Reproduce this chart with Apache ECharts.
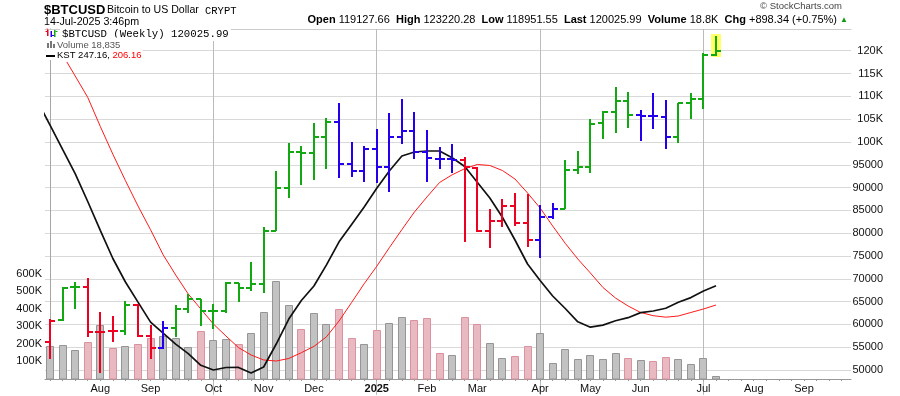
<!DOCTYPE html>
<html><head><meta charset="utf-8">
<script src="https://cdn.jsdelivr.net/npm/echarts@6/dist/echarts.min.js"></script>
<style>html,body{margin:0;padding:0;background:#fff}#c{width:900px;height:396px}</style>
</head><body><div id="c"></div>
<script>
// ---- data (weekly bars, week start dates) ----
const weekDates = ['2024-07-08','2024-07-15','2024-07-22','2024-07-29','2024-08-05','2024-08-12','2024-08-19','2024-08-26',
 '2024-09-02','2024-09-09','2024-09-16','2024-09-23','2024-09-30','2024-10-07','2024-10-14','2024-10-21','2024-10-28',
 '2024-11-04','2024-11-11','2024-11-18','2024-11-25','2024-12-02','2024-12-09','2024-12-16','2024-12-23','2024-12-30',
 '2025-01-06','2025-01-13','2025-01-20','2025-01-27','2025-02-03','2025-02-10','2025-02-17','2025-02-24','2025-03-03',
 '2025-03-10','2025-03-17','2025-03-24','2025-03-31','2025-04-07','2025-04-14','2025-04-21','2025-04-28','2025-05-05',
 '2025-05-12','2025-05-19','2025-05-26','2025-06-02','2025-06-09','2025-06-16','2025-06-23','2025-06-30','2025-07-07','2025-07-14'];
const opens = [56139,60963,68264,68132,58266,58617,58617,64251,57350,54758,59143,63374,65501,63001,62936,69009,68045,
 68790,80542,89838,97863,97512,101151,104441,95100,93697,98389,94573,101151,102467,97863,96328,96328,96043,94224,
 80542,82668,86023,82296,78503,83611,85299,93850,94574,104155,106567,109044,105909,105690,105537,101151,108606,109483,119127.66];
const highs = [61248,68132,69360,70105,62651,61840,65128,64471,59866,60678,64251,66663,65567,64471,69360,69141,73613,
 81419,93631,99705,99112,104221,105186,108475,99924,99112,102774,106282,109418,106502,102620,98827,99551,96635,94443,
 85299,87492,88742,88588,86111,86549,96043,98016,104966,106786,111983,110886,106940,110667,109198,108475,110667,119568,123220.28];
const lows = [52346,60743,63308,57170,49276,56073,57674,57170,52478,54670,57301,62563,59713,58923,62563,64975,67387,
 66817,80476,87646,90561,91658,94069,92162,92381,91285,91066,89093,99485,96197,91154,94004,93258,78130,80323,
 76683,81419,81572,77034,74490,83041,85299,92908,93258,100713,102028,103124,100274,102774,98389,99705,105098,107290,118951.55];
const closes = [60743,68045,68264,58266,58331,58617,64251,57350,54889,59143,63374,65501,63001,62936,69009,68045,68790,
 80542,89838,97863,97512,101151,104441,95100,93697,98389,94573,101151,102467,97863,96547,96328,96043,94443,80542,
 82668,86023,82296,78503,83611,85234,93850,94443,103936,106502,109044,105909,105690,105690,101151,108475,109352,119130,120025.99];
// bar colour code: g = green, r = red, b = blue
const barColorCode = ['r','g','g','r','r','r','g','r','r','b','g','g','g','g','g','g','g','g','g','g','g','g','g',
 'b','b','b','b','b','b','b','b','b','b','r','r','r','r','r','r','b','b','g','g','g','g','g','g','b','b','b','g','g','g','g'];
const volumes = [188000,193000,165000,210000,307000,178000,187000,199000,235000,244000,235000,182000,273000,222000,
 227000,199000,263000,381000,558000,423000,284000,376000,313000,398000,233000,199000,279000,319000,353000,336000,
 347000,148000,136000,353000,315000,206000,119000,130000,187000,263000,92000,170000,113000,136000,113000,149000,
 119000,108000,102000,125000,113000,85000,119000,18835];
const volumeDownWeeks = [3,5,7,8,12,15,20,23,24,26,29,30,31,33,34,37,38,46,48,49];
// KST and its signal line; first value belongs to the week before the window (2024-07-01)
const kstLine = [639.5,588.1,536.5,485.3,426.0,364.8,304.9,255.0,212.3,169.9,146.5,123.1,102.9,78.1,68.1,73.4,73.6,
 61.7,74.5,123.3,176.4,215.7,246.5,291.4,340.4,377.2,414.3,454.1,490.8,522.7,531.2,533.3,533.3,519.0,500.4,466.8,
 433.4,392.5,344.2,293.3,258.2,225.3,198.7,170.5,159.0,163.5,172.8,179.2,190.0,193.4,199.2,211.9,221.9,235.9,247.16];
const kstSignal = [828.5,783.1,737.8,692.6,647.3,585.5,526.5,470.4,416.5,366.1,313.0,269.9,229.5,197.7,165.8,140.3,
 115.7,100.0,89.4,87.2,92.6,104.9,118.2,138.6,172.2,211.5,251.4,288.4,327.9,366.3,403.7,435.8,466.4,482.7,495.7,
 504.6,502.5,491.9,473.8,444.1,412.2,374.0,337.2,303.9,274.2,243.4,221.0,204.1,190.3,183.5,180.3,182.8,190.3,197.7,206.16];
// x-axis tick labels (week index -> text)
const monthLabelIdx = [4,8,13,17,21,26,30,34,39,43,47,52,56,60];
const monthLabelText = ['Aug','Sep','Oct','Nov','Dec','2025','Feb','Mar','Apr','May','Jun','Jul','Aug','Sep'];
const quarterIdx = [13,26,39,52];

// ---- build ----
const FONT = '"Liberation Sans", Arial, sans-serif';
const X_MIN = -0.4, X_MAX = 63.74;
const COLORS = {g:'#12a812', r:'#ee0020', b:'#2200ee'};
const ohlcData = weekDates.map((d,i)=>[i, opens[i], highs[i], lows[i], closes[i]]);
const volData = volumes.map((v,i)=>[i, v]);
const kstData = kstLine.map((v,i)=>[i-1, v]);
const sigData = kstSignal.map((v,i)=>[i-1, v]);
const weekTicks = []; for (let i = 0; i < 64; i++) weekTicks.push(i);
const labelMap = {}; monthLabelIdx.forEach((v,k)=>labelMap[v]=monthLabelText[k]);

const chart = echarts.init(document.getElementById('c'), null, {renderer:'canvas'});
const xBase = {type:'value', min:X_MIN, max:X_MAX, splitLine:{show:false}};
const option = {
  animation:false,
  textStyle:{fontFamily:FONT},
  grid:[{left:45,right:49,top:29,bottom:17},{left:45,right:49,top:50.73,bottom:26}],
  xAxis:[
    Object.assign({}, xBase, {gridIndex:0, position:'bottom',
      axisLine:{show:true, onZero:false, lineStyle:{color:'#999',width:1}},
      axisTick:{show:true, customValues:quarterIdx, length:16, lineStyle:{color:'#bbbbbb'}},
      axisLabel:{show:true, customValues:monthLabelIdx, margin:4, fontSize:11, color:'#111', fontFamily:FONT,
        formatter:function(v){const t=labelMap[Math.round(v)]||''; return t==='2025'?'{y|2025}':t;},
        rich:{y:{fontWeight:'bold',fontSize:11,color:'#111',fontFamily:FONT}}}}),
    Object.assign({}, xBase, {gridIndex:0, position:'bottom',
      axisLine:{show:false}, axisLabel:{show:false},
      axisTick:{show:true, customValues:weekTicks, length:2, lineStyle:{color:'#999'}}}),
    Object.assign({}, xBase, {gridIndex:0, position:'top',
      axisLine:{show:true, onZero:false, lineStyle:{color:'#cccccc'}}, axisTick:{show:false}, axisLabel:{show:false}}),
    Object.assign({}, xBase, {gridIndex:1, show:false})
  ],
  yAxis:[
    {gridIndex:0, type:'value', position:'left', min:0, max:1995439, interval:100000,
      axisLine:{show:true, lineStyle:{color:'#999'}}, axisTick:{show:false}, splitLine:{show:false},
      axisLabel:{margin:3, fontSize:11, color:'#111', fontFamily:FONT,
        formatter:function(v){return (v>=100000&&v<=600000)?(Math.round(v/1000))+'K':'';}}},
    {gridIndex:0, type:'value', position:'right', min:49, max:792.4,
      axisLine:{show:true, lineStyle:{color:'#aaaaaa', type:'dotted'}}, axisTick:{show:false},
      axisLabel:{show:false}, splitLine:{show:false}},
    {gridIndex:1, type:'value', position:'right', min:50000, max:120000, interval:5000,
      axisLine:{show:false}, axisTick:{show:false},
      splitLine:{show:true, lineStyle:{color:'#d9d9d9', width:1}},
      axisLabel:{align:'right', margin:32, fontSize:11, color:'#111', fontFamily:FONT,
        formatter:function(v){return v>=100000?(v/1000)+'K':String(v);}}}
  ],
  series:[
    {type:'custom', name:'Volume', xAxisIndex:0, yAxisIndex:0, z:2, clip:false, data:volData,
      encode:{x:0,y:1},
      renderItem:function(params, api){
        const i = api.value(0);
        const top = api.coord([i, api.value(1)]);
        const base = api.coord([i, 0]);
        const x = Math.round(top[0]);
        const down = volumeDownWeeks.indexOf(i) >= 0;
        return {type:'rect', shape:{x:x-3.5, y:Math.round(top[1])+0.5, width:7, height:Math.round(base[1])-Math.round(top[1])-0.5},
          style:{fill: down?'#e8b9c0':'#c2c2c2', stroke: down?'#d9929e':'#959595', lineWidth:1}};
      }},
    {type:'line', name:'Signal', xAxisIndex:0, yAxisIndex:1, z:3, data:sigData, showSymbol:false,
      lineStyle:{color:'#ff1a1a', width:1}, silent:true,
      markLine:{silent:true, symbol:'none', z:1, label:{show:false}, animation:false,
        lineStyle:{color:'#bbbbbb', type:'solid', width:1},
        data: quarterIdx.map(q=>({xAxis:q}))}},
    {type:'line', name:'KST', xAxisIndex:0, yAxisIndex:1, z:3, data:kstData, showSymbol:false,
      lineStyle:{color:'#111', width:1.7}, silent:true},
    {type:'custom', name:'Price', xAxisIndex:3, yAxisIndex:2, z:4, clip:false, data:ohlcData,
      encode:{x:0, y:[1,2,3,4]},
      renderItem:function(params, api){
        const i = api.value(0);
        const o = api.coord([i, api.value(1)]);
        const h = api.coord([i, api.value(2)]);
        const l = api.coord([i, api.value(3)]);
        const c = api.coord([i, api.value(4)]);
        const x = Math.round(o[0]);
        const col = COLORS[barColorCode[i]];
        const ch = [];
        if (params.dataIndex === ohlcData.length - 1) {
          ch.push({type:'rect', shape:{x:x-5, y:Math.round(h[1])-2, width:10, height:Math.round(l[1])-Math.round(h[1])+3}, style:{fill:'#ffff66'}});
        }
        ch.push({type:'rect', shape:{x:x-1, y:Math.round(h[1]), width:2, height:Math.max(1,Math.round(l[1])-Math.round(h[1]))}, style:{fill:col}});
        ch.push({type:'rect', shape:{x:x-5, y:Math.round(o[1])-1, width:5, height:2}, style:{fill:col}});
        ch.push({type:'rect', shape:{x:x, y:Math.round(c[1])-1, width:5, height:2}, style:{fill:col}});
        return {type:'group', children:ch};
      }}
  ],
  graphic:[
    {type:'text', x:44, y:10, z:100, style:{text:'$BTCUSD', font:'bold 13px '+FONT, fill:'#000', verticalAlign:'middle'}},
    {type:'text', x:107, y:10.5, z:100, style:{text:'Bitcoin to US Dollar', font:'10.6px '+FONT, fill:'#000', verticalAlign:'middle'}},
    {type:'text', x:205, y:11, z:100, style:{text:'CRYPT', font:'10.5px "Liberation Mono", monospace', fill:'#000', verticalAlign:'middle'}},
    {type:'text', x:44, y:22.5, z:100, style:{text:'14-Jul-2025 3:46pm', font:'10.7px '+FONT, fill:'#000', verticalAlign:'middle'}},
    {type:'text', x:842, y:6.5, z:100, style:{text:'\u00a9 StockCharts.com', font:'9.5px '+FONT, fill:'#444', align:'right', verticalAlign:'middle'}},
    {type:'text', x:848, y:20, z:100, style:{
      text:'{b|Open} 119127.66  {b|High} 123220.28  {b|Low} 118951.55  {b|Last} 120025.99  {b|Volume} 18.8K  {b|Chg} +898.34 (+0.75%) {u|\u25b2}',
      font:'11px '+FONT, fill:'#000', align:'right', verticalAlign:'middle',
      rich:{b:{fontWeight:'bold', fontSize:11, fontFamily:FONT, fill:'#000'}, u:{fontSize:8, fill:'#119911', fontFamily:FONT}}}},
    // legend background behind icons
    {type:'rect', z:99, shape:{x:45.5, y:30, width:14, height:30}, style:{fill:'#fff'}},
    // legend rows
    {type:'text', x:60, y:34.5, z:100, style:{text:'$BTCUSD (Weekly) 120025.99', font:'10.7px "Liberation Mono", monospace', fill:'#000',
      verticalAlign:'middle', backgroundColor:'#fff', padding:[1,2,1,2]}},
    {type:'text', x:56, y:45, z:100, style:{text:'Volume 18,835', font:'9.5px '+FONT, fill:'#555',
      verticalAlign:'middle', backgroundColor:'#fff', padding:[2,1,3,1]}},
    {type:'text', x:56, y:55.6, z:100, style:{text:'KST 247.16, {r|206.16}', font:'9.5px '+FONT, fill:'#000',
      verticalAlign:'middle', backgroundColor:'#fff', padding:[1,1,2,1], rich:{r:{fill:'#ff0000', fontSize:9.5, fontFamily:FONT}}}},
    // icons
    {type:'rect', z:101, shape:{x:47, y:30, width:1.5, height:6}, style:{fill:'#ee0020'}},
    {type:'rect', z:101, shape:{x:45.5, y:31, width:2, height:1}, style:{fill:'#ee0020'}},
    {type:'rect', z:101, shape:{x:50.5, y:31, width:1.5, height:6}, style:{fill:'#2200ee'}},
    {type:'rect', z:101, shape:{x:52, y:35, width:2, height:1}, style:{fill:'#2200ee'}},
    {type:'rect', z:101, shape:{x:54, y:30, width:1.5, height:7}, style:{fill:'#12a812'}},
    {type:'rect', z:101, shape:{x:55.5, y:31, width:2, height:1}, style:{fill:'#12a812'}},
    {type:'rect', z:101, shape:{x:47, y:43, width:2, height:5}, style:{fill:'#777'}},
    {type:'rect', z:101, shape:{x:50, y:41, width:2, height:7}, style:{fill:'#777'}},
    {type:'rect', z:101, shape:{x:53, y:44, width:2, height:4}, style:{fill:'#777'}},
    {type:'rect', z:101, shape:{x:46, y:55, width:9, height:2}, style:{fill:'#000'}}
  ]
};
chart.setOption(option);
</script>
</body></html>
